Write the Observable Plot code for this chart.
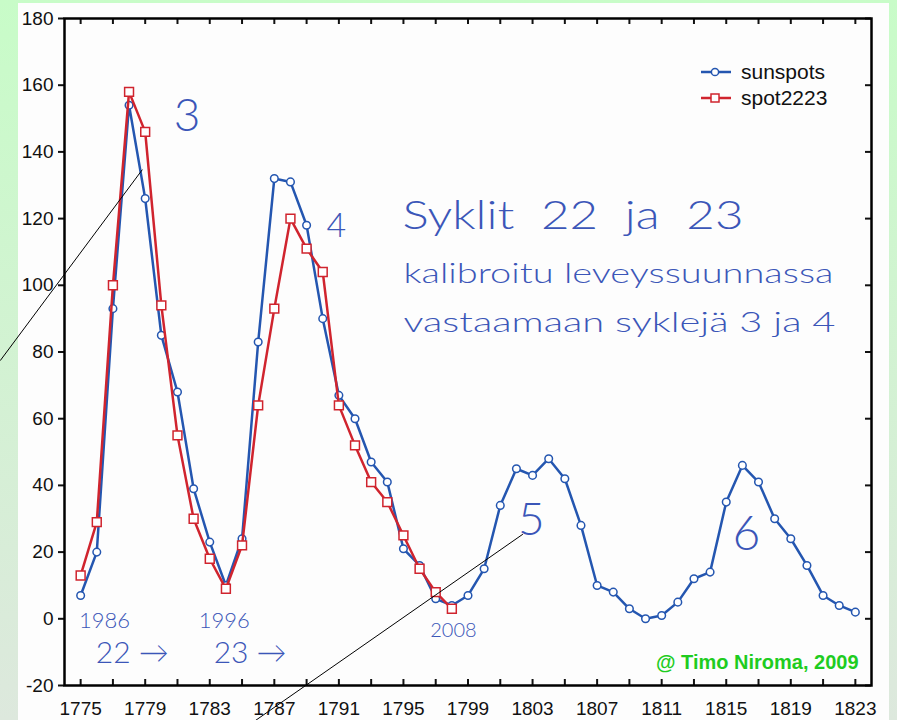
<!DOCTYPE html>
<html><head><meta charset="utf-8">
<script src="https://cdn.jsdelivr.net/npm/d3@7"></script>
<script src="https://cdn.jsdelivr.net/npm/@observablehq/plot@0.6"></script>
<style>
html,body{margin:0;padding:0;background:#c9fbc9;}
#wrap{position:relative;width:897px;height:720px;background:linear-gradient(#c8fcc8,#dde8dd);overflow:hidden;font-family:"Liberation Sans",Arial,sans-serif;}
#panel{position:absolute;left:18px;top:3px;width:871px;height:717px;background:#fdfdfd;}
#chart{position:absolute;left:0;top:0;}
.lg{position:absolute;left:700px;font-size:21px;color:#111;display:flex;align-items:center;height:24px;}
.lg svg{margin-right:9px;}
</style></head><body>
<div id="wrap"><div id="panel"></div><div id="chart"></div>
<div id="legend"></div></div>
<script>
// ---- data ----
const years = [1775,1776,1777,1778,1779,1780,1781,1782,1783,1784,1785,1786,1787,1788,1789,1790,1791,1792,1793,1794,1795,1796,1797,1798,1799,1800,1801,1802,1803,1804,1805,1806,1807,1808,1809,1810,1811,1812,1813,1814,1815,1816,1817,1818,1819,1820,1821,1822,1823];
const sunspots = [7,20,93,154,126,85,68,39,23,10,24,83,132,131,118,90,67,60,47,41,21,16,6,4,7,15,34,45,43,48,42,28,10,8,3,0,1,5,12,14,35,46,41,30,24,16,7,4,2];
const spot2223 = [13,29,100,158,146,94,55,30,18,9,22,64,93,120,111,104,64,52,41,35,25,15,8,3];
const seriesNames = ["sunspots","spot2223"];
const yTicks = [-20,0,20,40,60,80,100,120,140,160,180];
const xLabelTicks = [1775,1779,1783,1787,1791,1795,1799,1803,1807,1811,1815,1819,1823];
const xMinorTicks = [1775,1777,1779,1781,1783,1785,1787,1789,1791,1793,1795,1797,1799,1801,1803,1805,1807,1809,1811,1813,1815,1817,1819,1821,1823];

// handwritten annotations (data coordinates)
const annoText = ["3","4","5","6","1986","22 →","1996","23 →","2008"];
const annoX = [1781.6,1790.85,1802.93,1816.25,1776.48,1778.2,1783.9,1785.5,1798.1];
const annoY = [150.6,117.6,29.5,25.3,-0.6,-10.3,-0.6,-10.3,-3.5];
const noteText = ["Syklit  22  ja  23","kalibroitu leveyssuunnassa","vastaamaan syklejä 3 ja 4"];
const noteX = [1794.94,1795.0,1795.0];
const noteY = [120.6,103.5,88.8];
const creditText = ["@ Timo Niroma, 2009"];
const creditX = [1823.2];
const creditY = [-13.1];
// thin black pointer lines
const pointerA = [{x:1770.03,y:77.5},{x:1778.81,y:134.6}];
const pointerB = [{x:1785.83,y:-30.5},{x:1802.38,y:25.3}];

// ---- build ----
const blue = "#2456b0", red = "#d0242e", ink = "#3b56b8";
const sun = years.map((yr,i)=>({year:yr, v:sunspots[i]}));
const s23 = spot2223.map((v,i)=>({year:years[i], v}));
const anno = annoText.map((t,i)=>({t, x:annoX[i], y:annoY[i]}));
const notes = noteText.map((t,i)=>({t, x:noteX[i], y:noteY[i]}));
const credit = creditText.map((t,i)=>({t, x:creditX[i], y:creditY[i]}));
const annoSize = [46,34,46,48,22,30,22,30,20];
const noteSize = [40,28,28];
const noteLen = [341,430,432];

const W=897,H=720,mL=64,mR=26,mT=18,mB=35;
const pW=W-mL-mR, pH=H-mT-mB;
const hand = "Lato, 'Open Sans', 'DejaVu Sans', sans-serif";

const svg = Plot.plot({
  width:W, height:H, marginLeft:mL, marginRight:mR, marginTop:mT, marginBottom:mB,
  style:{background:"transparent", fontFamily:"'Liberation Sans', Arial, sans-serif", color:"#111"},
  x:{domain:[1774,1824], axis:null},
  y:{domain:[-20,180], axis:null},
  marks:[
    Plot.axisY({ticks:yTicks, tickSize:6, tickPadding:5, fontSize:19, tickFormat:d=>String(d), label:null, strokeWidth:2}),
    Plot.axisX({ticks:xLabelTicks, tickSize:0, tickPadding:16, fontSize:19, tickFormat:d=>String(d), label:null}),
    Plot.tickX(xMinorTicks, {x:d=>d, insetTop:pH-6, strokeWidth:2}),
    Plot.tickX(xMinorTicks, {x:d=>d, insetBottom:pH-6, strokeWidth:2}),
    Plot.tickY(yTicks, {y:d=>d, insetLeft:pW-6, strokeWidth:2}),
    Plot.line(sun, {x:"year", y:"v", stroke:blue, strokeWidth:2.5}),
    Plot.dot(sun, {x:"year", y:"v", r:3.8, fill:"white", stroke:blue, strokeWidth:1.5}),
    Plot.line(s23, {x:"year", y:"v", stroke:red, strokeWidth:2.5}),
    Plot.dot(s23, {x:"year", y:"v", symbol:"square", r:5, fill:"white", stroke:red, strokeWidth:1.5}),
    Plot.line(pointerA, {x:"x", y:"y", stroke:"black", strokeWidth:1}),
    Plot.line(pointerB, {x:"x", y:"y", stroke:"black", strokeWidth:1}),
    Plot.text(anno, {x:"x", y:"y", text:"t", fill:ink, fontSize:(d,i)=>annoSize[i], fontFamily:hand, fontWeight:300}),
    Plot.text(notes, {x:"x", y:"y", text:"t", fill:ink, textAnchor:"start", fontSize:(d,i)=>noteSize[i], fontFamily:hand, fontWeight:300}),
    Plot.text(credit, {x:"x", y:"y", text:"t", fill:"#1fcc1f", textAnchor:"end", fontSize:20, fontWeight:"bold", fontFamily:"'Liberation Sans', Arial, sans-serif"}),
    Plot.frame({stroke:"#000", strokeWidth:2.5})
  ]
});
// stretch the handwritten notes to their drawn widths
d3.select(svg).selectAll("text").each(function(){
  const i = noteText.indexOf(this.textContent);
  if (i >= 0) { this.setAttribute("textLength", noteLen[i]); this.setAttribute("lengthAdjust","spacingAndGlyphs"); }
});
document.getElementById("chart").appendChild(svg);

// legend
const lg = document.getElementById("legend");
const lgColors = [blue, red];
const lgTop = [60, 86];
seriesNames.forEach((name,i)=>{
  const row = document.createElement("div");
  row.className = "lg"; row.style.top = lgTop[i]+"px";
  const marker = i===0
    ? `<circle cx="15" cy="12" r="3.6" fill="white" stroke="${lgColors[i]}" stroke-width="1.5"/>`
    : `<rect x="11" y="8" width="8" height="8" fill="white" stroke="${lgColors[i]}" stroke-width="1.5"/>`;
  row.innerHTML = `<svg width="32" height="24"><line x1="1" x2="31" y1="12" y2="12" stroke="${lgColors[i]}" stroke-width="2.5"/>${marker}</svg><span>${name}</span>`;
  lg.appendChild(row);
});
</script>
</body></html>
